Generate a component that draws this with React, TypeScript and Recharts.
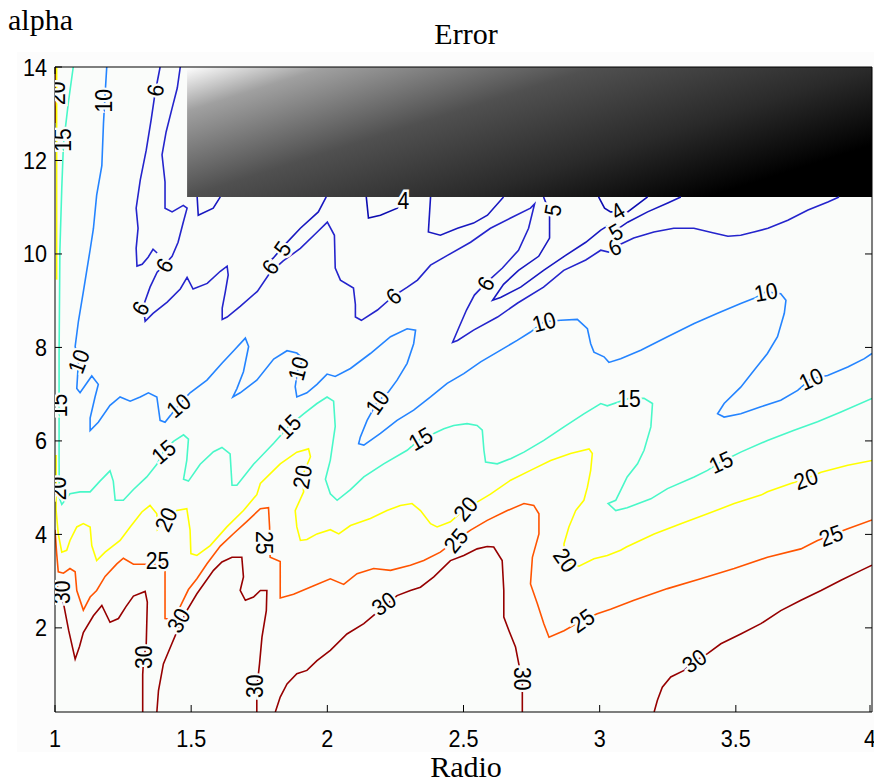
import React from "react";
import {
  ComposedChart, Line, Scatter, XAxis, YAxis, CartesianGrid,
  ReferenceArea, ReferenceLine
} from "recharts";

type Pt = [number, number];

const xTicks = [1, 1.5, 2, 2.5, 3, 3.5, 4];
const yTicks = [2, 4, 6, 8, 10, 12, 14];

// ---- contour level 30
const c30a: Pt[] = [[1.0,2.97],[1.012,2.85],[1.031,2.53],[1.05,1.95],[1.074,1.33],[1.09,1.6],[1.104,1.9],[1.141,2.26],[1.172,2.48],[1.202,2.12],[1.233,2.2],[1.26,2.45],[1.288,2.68],[1.331,2.78],[1.339,2.55],[1.335,1.65],[1.325,1.3],[1.322,1.0],[1.322,0.2]];
const c30b: Pt[] = [[1.374,0.2],[1.38,0.66],[1.398,1.23],[1.429,1.66],[1.447,1.91],[1.484,2.37],[1.521,2.73],[1.582,3.23],[1.613,3.41],[1.65,3.51],[1.686,3.51],[1.692,3.09],[1.68,2.8],[1.699,2.59],[1.729,2.66],[1.754,2.8],[1.778,2.8],[1.776,2.37],[1.76,1.8],[1.751,1.23],[1.741,0.7],[1.741,0.2]];
const c30c: Pt[] = [[1.809,0.2],[1.827,0.52],[1.852,0.8],[1.888,1.02],[1.925,1.09],[1.962,1.3],[2.011,1.52],[2.072,1.87],[2.134,2.09],[2.207,2.45],[2.256,2.69],[2.305,2.8],[2.342,2.87],[2.391,3.09],[2.452,3.44],[2.501,3.55],[2.55,3.69],[2.587,3.74],[2.611,3.73],[2.642,3.44],[2.648,2.8],[2.648,2.23],[2.667,1.94],[2.691,1.59],[2.703,1.23],[2.716,0.9],[2.716,0.2]];
const c30d: Pt[] = [[3.2,0.2],[3.212,0.45],[3.23,0.73],[3.261,0.95],[3.31,1.09],[3.347,1.28],[3.396,1.45],[3.445,1.66],[3.518,1.87],[3.592,2.09],[3.665,2.37],[3.739,2.59],[3.813,2.8],[3.886,3.02],[3.96,3.23],[4.0,3.34]];

// ---- contour level 25
const c25edge: Pt[] = [[1.003,14],[1.003,12.8]];
const c25: Pt[] = [[1.0,4.1],[1.006,3.6],[1.012,3.2],[1.031,3.17],[1.055,3.27],[1.074,3.2],[1.08,2.8],[1.104,2.38],[1.129,2.66],[1.153,2.8],[1.184,3.1],[1.227,3.37],[1.251,3.49],[1.288,3.36],[1.325,3.36],[1.404,3.36],[1.404,2.8],[1.404,2.2],[1.429,2.18],[1.46,2.46],[1.49,2.82],[1.521,3.05],[1.558,3.37],[1.607,3.75],[1.656,4.02],[1.705,4.28],[1.754,4.55],[1.784,4.57],[1.788,4.15],[1.788,3.8],[1.79,3.51],[1.827,3.42],[1.827,2.64],[1.876,2.72],[1.95,2.9],[2.011,3.05],[2.06,2.93],[2.109,3.16],[2.17,3.27],[2.232,3.23],[2.305,3.34],[2.354,3.44],[2.415,3.62],[2.471,3.87],[2.526,4.09],[2.587,4.3],[2.661,4.51],[2.722,4.66],[2.758,4.62],[2.777,4.44],[2.777,4.01],[2.753,3.51],[2.746,2.94],[2.771,2.52],[2.795,2.09],[2.814,1.8],[2.869,1.94],[2.936,2.16],[2.991,2.3],[3.04,2.4],[3.126,2.59],[3.249,2.84],[3.371,3.05],[3.494,3.27],[3.616,3.51],[3.739,3.69],[3.8,3.87],[3.849,3.98],[3.911,4.12],[4.0,4.31]];

// ---- contour level 20
const c20edge: Pt[] = [[1.006,14],[1.006,9.45]];
const c20: Pt[] = [[1.004,5.7],[1.004,4.51],[1.012,4.01],[1.025,3.62],[1.043,3.66],[1.055,3.87],[1.08,4.16],[1.104,4.23],[1.129,4.16],[1.135,3.76],[1.153,3.44],[1.184,3.62],[1.239,3.87],[1.276,4.16],[1.319,4.48],[1.349,4.62],[1.374,4.44],[1.376,4.1],[1.41,4.3],[1.447,4.51],[1.484,4.55],[1.496,4.09],[1.499,3.59],[1.521,3.55],[1.57,3.76],[1.631,4.16],[1.692,4.51],[1.741,4.85],[1.754,5.09],[1.827,5.51],[1.888,5.76],[1.931,5.83],[1.938,5.66],[1.907,5.23],[1.913,4.91],[1.882,4.51],[1.888,4.16],[1.901,3.87],[1.925,3.89],[1.962,4.01],[2.011,4.1],[2.042,4.01],[2.085,4.19],[2.158,4.34],[2.219,4.51],[2.268,4.62],[2.311,4.66],[2.342,4.51],[2.379,4.23],[2.403,4.16],[2.452,4.27],[2.507,4.55],[2.55,4.69],[2.599,4.86],[2.673,5.16],[2.746,5.37],[2.82,5.58],[2.893,5.73],[2.961,5.83],[2.973,5.73],[2.967,5.37],[2.955,5.01],[2.942,4.73],[2.912,4.51],[2.887,4.16],[2.869,3.8],[2.872,3.42],[2.924,3.32],[2.979,3.48],[3.028,3.55],[3.077,3.66],[3.098,3.73],[3.2,4.01],[3.298,4.23],[3.396,4.44],[3.494,4.66],[3.592,4.84],[3.616,4.91],[3.702,5.09],[3.757,5.19],[3.813,5.33],[3.911,5.48],[4.0,5.58]];

// ---- contour level 15
const c15: Pt[] = [[1.067,14],[1.049,13.24],[1.031,12.34],[1.025,11.43],[1.018,10.09],[1.015,7.84],[1.015,6.76],[1.015,5.58],[1.016,4.78],[1.025,4.64],[1.055,4.87],[1.092,4.91],[1.129,4.91],[1.165,5.14],[1.202,5.36],[1.214,5.14],[1.221,4.73],[1.251,4.73],[1.288,4.96],[1.337,5.23],[1.374,5.5],[1.398,5.77],[1.435,5.99],[1.472,6.13],[1.49,6.04],[1.484,5.59],[1.472,5.18],[1.49,5.14],[1.533,5.5],[1.582,5.77],[1.613,5.86],[1.643,5.72],[1.65,5.05],[1.668,5.05],[1.729,5.5],[1.803,5.95],[1.858,6.31],[1.913,6.58],[1.962,6.8],[1.999,6.94],[2.023,6.85],[2.029,6.31],[2.011,5.59],[1.993,5.18],[2.011,4.87],[2.036,4.73],[2.085,4.96],[2.134,5.23],[2.207,5.51],[2.293,5.8],[2.342,6.05],[2.391,6.16],[2.428,6.26],[2.464,6.33],[2.513,6.37],[2.55,6.33],[2.569,6.23],[2.575,5.8],[2.581,5.55],[2.624,5.51],[2.673,5.62],[2.722,5.76],[2.795,6.01],[2.869,6.3],[2.942,6.58],[3.004,6.8],[3.028,6.75],[3.108,6.91],[3.163,6.91],[3.194,6.8],[3.188,6.3],[3.163,5.8],[3.139,5.51],[3.101,5.23],[3.077,4.94],[3.059,4.73],[3.031,4.66],[3.059,4.51],[3.101,4.57],[3.188,4.76],[3.249,4.98],[3.347,5.23],[3.396,5.37],[3.445,5.55],[3.518,5.76],[3.616,6.01],[3.714,6.23],[3.8,6.41],[3.886,6.62],[4.0,6.91]];

// ---- contour level 10
const c10: Pt[] = [[1.19,14],[1.184,13.42],[1.178,12.79],[1.172,11.89],[1.153,11.26],[1.141,10.54],[1.129,10.09],[1.104,9.19],[1.086,8.56],[1.074,8.02],[1.086,7.7],[1.08,7.12],[1.092,7.03],[1.135,7.39],[1.159,7.21],[1.147,6.94],[1.129,6.49],[1.129,6.22],[1.159,6.4],[1.202,6.76],[1.239,6.94],[1.276,6.85],[1.313,6.94],[1.343,7.03],[1.374,6.94],[1.386,6.44],[1.404,6.4],[1.453,6.76],[1.496,7.03],[1.558,7.3],[1.613,7.66],[1.656,7.93],[1.699,8.2],[1.711,8.02],[1.692,7.48],[1.668,7.12],[1.653,6.94],[1.68,7.03],[1.741,7.3],[1.803,7.75],[1.852,7.93],[1.888,7.88],[1.913,7.75],[1.892,7.55],[1.882,7.16],[1.888,6.94],[1.925,7.03],[1.962,7.21],[1.999,7.43],[2.029,7.38],[2.085,7.55],[2.158,7.87],[2.232,8.23],[2.293,8.4],[2.324,8.37],[2.317,8.08],[2.293,7.66],[2.256,7.3],[2.225,7.05],[2.183,6.83],[2.146,6.44],[2.121,6.08],[2.115,5.94],[2.134,5.91],[2.195,6.16],[2.256,6.44],[2.317,6.66],[2.379,6.94],[2.44,7.23],[2.501,7.44],[2.563,7.69],[2.624,7.9],[2.697,8.15],[2.746,8.33],[2.795,8.55],[2.857,8.58],[2.918,8.6],[2.955,8.4],[2.967,8.08],[2.979,7.9],[3.016,7.8],[3.034,7.68],[3.077,7.76],[3.151,7.94],[3.249,8.23],[3.347,8.51],[3.433,8.73],[3.518,8.94],[3.567,9.05],[3.61,9.19],[3.665,9.15],[3.684,9.01],[3.678,8.73],[3.653,8.23],[3.616,7.87],[3.567,7.51],[3.518,7.15],[3.457,6.8],[3.433,6.58],[3.457,6.51],[3.518,6.58],[3.592,6.73],[3.665,6.87],[3.727,7.08],[3.776,7.33],[3.837,7.4],[3.911,7.58],[3.972,7.76],[4.0,7.87]];

// ---- contour levels 6, 5, 4 (upper band, partly hidden by the box)
const c6a: Pt[] = [[1.386,14],[1.368,13.46],[1.353,12.87],[1.335,12.22],[1.313,11.58],[1.298,10.98],[1.305,10.55],[1.298,10.12],[1.301,9.74],[1.32,9.78],[1.342,9.93],[1.36,10.1],[1.375,10.02]];
const c6b: Pt[] = [[1.46,14],[1.449,13.55],[1.43,13.12],[1.408,12.61],[1.393,12.12],[1.404,11.54],[1.404,10.98],[1.43,10.9],[1.471,11.04],[1.485,10.98],[1.471,10.68],[1.452,10.25],[1.43,9.95],[1.401,9.76],[1.375,9.61],[1.349,9.29],[1.324,8.88],[1.331,8.56],[1.36,8.73],[1.412,8.97],[1.46,9.25],[1.485,9.5],[1.507,9.25],[1.559,9.37],[1.607,9.63],[1.632,9.74],[1.636,9.55],[1.625,9.18],[1.614,8.84],[1.614,8.6],[1.632,8.65],[1.68,8.88],[1.743,9.2],[1.79,9.6],[1.838,9.85],[1.901,10.12],[1.963,10.47],[2.0,10.68],[2.026,10.4],[2.029,9.7],[2.048,9.44],[2.096,9.27],[2.103,8.92],[2.103,8.65],[2.125,8.58],[2.184,8.8],[2.243,9.1],[2.294,9.29],[2.331,9.44],[2.379,9.76],[2.441,9.97],[2.526,10.25],[2.599,10.55],[2.673,10.77],[2.746,10.98],[2.761,11.07],[2.739,10.55],[2.702,10.08],[2.643,9.7],[2.581,9.37],[2.54,9.12],[2.511,8.8],[2.482,8.41],[2.46,8.11],[2.478,8.15],[2.537,8.37],[2.625,8.65],[2.699,8.95],[2.794,9.29],[2.868,9.65],[2.949,9.87],[3.004,10.08],[3.033,10.04],[3.055,10.15],[3.125,10.34],[3.199,10.47],[3.272,10.55],[3.346,10.55],[3.419,10.45],[3.471,10.38],[3.518,10.4],[3.566,10.47],[3.618,10.55],[3.691,10.72],[3.765,10.94],[3.838,11.11],[3.879,11.22]];
const c5a: Pt[] = [[2.794,11.22],[2.816,10.9],[2.816,10.34],[2.776,9.95],[2.702,9.65],[2.647,9.35],[2.607,9.01],[2.636,9.07],[2.71,9.29],[2.794,9.65],[2.875,9.97],[2.949,10.25],[3.004,10.51],[3.029,10.6],[3.055,10.49],[3.103,10.68],[3.176,10.9],[3.25,11.09],[3.298,11.22]];
const c5b: Pt[] = [[2.379,11.22],[2.371,10.47],[2.415,10.4],[2.478,10.55],[2.537,10.66],[2.588,10.83],[2.647,11.22]];
const c5c: Pt[] = [[1.522,11.22],[1.526,10.83],[1.581,10.98],[1.607,11.22]];
const c5d: Pt[] = [[1.996,11.22],[1.967,10.9],[1.901,10.55],[1.846,10.21],[1.801,9.91],[1.761,9.7]];
const c4a: Pt[] = [[2.996,11.22],[3.018,10.98],[3.04,10.9],[3.103,10.9],[3.176,11.22]];
const c4b: Pt[] = [[2.143,11.22],[2.151,10.77],[2.195,10.83],[2.257,10.98],[2.287,11.22]];

const contours: { level: number; pts: Pt[] }[] = [
  { level: 30, pts: c30a }, { level: 30, pts: c30b }, { level: 30, pts: c30c }, { level: 30, pts: c30d },
  { level: 25, pts: c25edge }, { level: 25, pts: c25 },
  { level: 20, pts: c20edge }, { level: 20, pts: c20 },
  { level: 15, pts: c15 },
  { level: 10, pts: c10 },
  { level: 6, pts: c6a }, { level: 6, pts: c6b },
  { level: 5, pts: c5a }, { level: 5, pts: c5b }, { level: 5, pts: c5c }, { level: 5, pts: c5d },
  { level: 4, pts: c4a }, { level: 4, pts: c4b },
];

const levelColor: Record<number, string> = {
  30: "#960000", 25: "#ff5400", 20: "#ffff00", 15: "#48f8c8",
  10: "#2484ff", 6: "#2424cc", 5: "#1818c0", 4: "#0c0cb0",
};

// contour labels: x, y, text
const labelPos: [number, number, string][] = [
  [1.025,2.76,"30"],[1.324,1.37,"30"],[1.453,2.16,"30"],[1.735,0.75,"30"],[2.207,2.52,"30"],[2.716,0.91,"30"],[3.347,1.3,"30"],
  [1.376,3.44,"25"],[1.768,3.82,"25"],[2.471,3.87,"25"],[2.936,2.16,"25"],[3.849,3.98,"25"],
  [1.01,4.98,"20"],[1.407,4.32,"20"],[1.907,5.23,"20"],[2.507,4.55,"20"],[2.875,3.45,"20"],[3.757,5.19,"20"],[1.007,13.44,"20"],
  [1.015,6.76,"15"],[1.398,5.77,"15"],[1.858,6.31,"15"],[2.342,6.05,"15"],[3.108,6.91,"15"],[3.445,5.55,"15"],[1.029,12.44,"15"],
  [1.178,13.28,"10"],[1.086,7.7,"10"],[1.453,6.76,"10"],[1.892,7.55,"10"],[2.183,6.83,"10"],[2.795,8.55,"10"],[3.61,9.19,"10"],[3.776,7.33,"10"],
  [1.368,13.5,"6"],[1.401,9.76,"6"],[1.313,8.84,"6"],[1.79,9.72,"6"],[2.243,9.1,"6"],[2.581,9.37,"6"],[3.055,10.15,"6"],
  [1.835,10.12,"5"],[3.059,10.47,"5"],[2.827,10.94,"5"],
  [3.066,10.92,"4"],[2.279,11.15,"4"],
];
const labelAngles = [
  -90,-90,-60,-90,-35,90,-35,
  0,90,-50,-35,-20,
  -90,-65,-80,-50,55,-20,-90,
  -90,-40,-45,-30,0,-25,-90,
  -90,-70,-40,-75,-55,-15,-10,-25,
  -80,-60,-60,-55,-40,-60,-20,
  -55,-30,-80,
  -30,0,
];

const PLOT_TOP = 67;
const PLOT_BOTTOM = 712;
const PLOT_LEFT = 55;
const PLOT_RIGHT = 872;
const BOX = { x1: 1.485, x2: 4, y1: 11.22, y2: 14 };
const BG = "#fafcfa";
const NUM_FONT = "'Liberation Sans', Arial, sans-serif";
const SERIF = "'Liberation Serif', 'Times New Roman', serif";

const XTick = ({ x, payload }: any) => (
  <g>
    <line x1={x} x2={x} y1={PLOT_BOTTOM} y2={PLOT_BOTTOM - 7} stroke="#000" />
    {payload.value < BOX.x1 && <line x1={x} x2={x} y1={PLOT_TOP} y2={PLOT_TOP + 7} stroke="#000" />}
    <text transform={`translate(${x},${PLOT_BOTTOM + 35}) scale(0.9,1)`} textAnchor="middle"
      fontSize={24} fontFamily={NUM_FONT} fill="#000">
      {payload.value}
    </text>
  </g>
);

const YTick = ({ y, payload }: any) => (
  <g>
    <line x1={PLOT_LEFT} x2={PLOT_LEFT + 7} y1={y} y2={y} stroke="#000" />
    {payload.value < BOX.y1 && <line x1={PLOT_RIGHT} x2={PLOT_RIGHT - 7} y1={y} y2={y} stroke="#000" />}
    <text transform={`translate(${PLOT_LEFT - 8},${y + 8.5}) scale(0.9,1)`} textAnchor="end"
      fontSize={24} fontFamily={NUM_FONT} fill="#000">
      {payload.value}
    </text>
  </g>
);

const ContourLabel = (props: any) => {
  const { cx, cy, payload } = props;
  if (cx == null || cy == null) return <g />;
  return (
    <g transform={`translate(${cx},${cy}) rotate(${payload.angle}) scale(0.92,1)`}>
      <text
        textAnchor="middle" dy="0.36em" fontSize={23} fontFamily={NUM_FONT}
        fill="#000" stroke={BG} strokeWidth={5} paintOrder="stroke"
      >
        {payload.text}
      </text>
    </g>
  );
};

export default function App() {
  const labelData = labelPos.map(([x, y, text], i) => ({ x, y, text, angle: labelAngles[i] }));

  return (
    <div style={{ position: "absolute", left: 0, top: 0, width: 874, height: 783, background: "#fff" }}>
      <svg width={874} height={783} style={{ position: "absolute", left: 0, top: 0 }}>
        <defs>
          <linearGradient id="boxGrad" x1="0" y1="0" x2="1" y2="0.6">
            <stop offset="0" stopColor="#ffffff" />
            <stop offset="0.15" stopColor="#a0a0a0" />
            <stop offset="0.44" stopColor="#505050" />
            <stop offset="0.74" stopColor="#2a2a2a" />
            <stop offset="1" stopColor="#000000" />
          </linearGradient>
        </defs>
        <rect x={17} y={52} width={857} height={700} fill="#fcfcfc" />
        <text x={8} y={30} fontSize={30} fontFamily={SERIF}>alpha</text>
        <text x={466} y={44} fontSize={30} textAnchor="middle" fontFamily={SERIF}>Error</text>
        <text x={466} y={777} fontSize={30} textAnchor="middle" fontFamily={SERIF}>Radio</text>
      </svg>
      <div style={{ position: "absolute", left: 0, top: 0 }}>
        <ComposedChart width={874} height={783} margin={{ top: PLOT_TOP, right: 874 - PLOT_RIGHT, bottom: 0, left: 0 }}>
          <CartesianGrid horizontal={false} vertical={false} fill={BG} fillOpacity={1} stroke="none" />
          <XAxis
            type="number" dataKey="x" domain={[1, 4]} ticks={xTicks} allowDataOverflow
            height={783 - PLOT_BOTTOM} axisLine={{ stroke: "#000" }} tickLine={false} tick={<XTick />}
          />
          <YAxis
            type="number" dataKey="y" domain={[0.2, 14]} ticks={yTicks} allowDataOverflow
            width={PLOT_LEFT} axisLine={{ stroke: "#000" }} tickLine={false} tick={<YTick />}
          />
          {contours.map((c, i) => (
            <Line
              key={i} data={c.pts.map(([x, y]) => ({ x, y }))} dataKey="y" type="linear"
              stroke={levelColor[c.level]} strokeWidth={1.6} dot={false} activeDot={false}
              isAnimationActive={false} legendType="none"
            />
          ))}
          <Scatter data={labelData} dataKey="y" shape={<ContourLabel />} isAnimationActive={false} legendType="none" />
          <ReferenceArea x1={BOX.x1} x2={BOX.x2} y1={BOX.y1} y2={BOX.y2} fill="url(#boxGrad)" fillOpacity={1} stroke="none" />
          <ReferenceLine y={14} stroke="#000" />
          <ReferenceLine x={4} stroke="#000" />
        </ComposedChart>
      </div>
    </div>
  );
}
